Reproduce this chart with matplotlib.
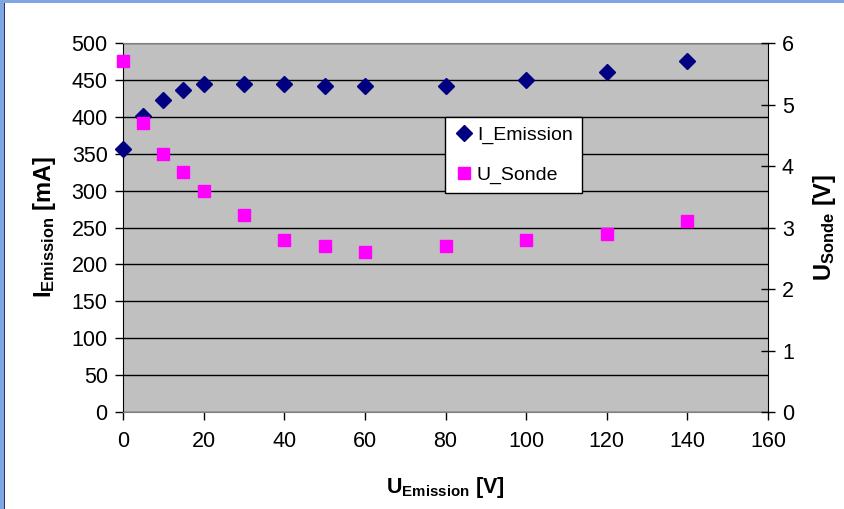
import matplotlib
matplotlib.use("Agg")
import matplotlib.pyplot as plt
from matplotlib.patches import Rectangle

plt.rcParams['font.family'] = ['Liberation Sans', 'DejaVu Sans']
plt.rcParams['mathtext.fontset'] = 'custom'
plt.rcParams['mathtext.rm'] = 'Liberation Sans'
plt.rcParams['mathtext.bf'] = 'Liberation Sans:bold'

# data
u_emission = [0, 5, 10, 15, 20, 30, 40, 50, 60, 80, 100, 120, 140]
i_emission = [357, 401, 423, 436, 445, 445, 445, 442, 442, 442, 450, 461, 475]
u_sonde = [5.7, 4.7, 4.2, 3.9, 3.6, 3.2, 2.8, 2.7, 2.6, 2.7, 2.8, 2.9, 3.1]

fig = plt.figure(figsize=(8.44, 5.09), dpi=100)
W, H = 844, 509
ax = fig.add_axes([123 / W, 1 - 412 / H, (768 - 123) / W, (412 - 43) / H])
ax.set_facecolor('#C0C0C0')

ax.set_xlim(0, 160)
ax.set_ylim(0, 500)
ax.set_xticks(range(0, 161, 20))
ax.set_yticks(range(0, 501, 50))
ax.yaxis.grid(True, color='black', linewidth=1)
ax.set_axisbelow(True)
ax.tick_params(axis='both', direction='out', length=6, width=1, labelsize=15.5, pad=5)
ax.tick_params(axis='x', pad=8)
for s in ['top', 'bottom']:
    ax.spines[s].set_color('#808080')
ax.spines['left'].set_color('black')
ax.spines['right'].set_visible(False)

ax2 = ax.twinx()
ax2.set_ylim(0, 6)
ax2.set_yticks(range(0, 7))
ax2.tick_params(axis='y', direction='inout', length=10, width=1, labelsize=15.5, pad=5)
ax2.spines['right'].set_color('black')
for s in ['top', 'bottom', 'left']:
    ax2.spines[s].set_visible(False)

h1, = ax.plot(u_emission, i_emission, 'D', color='#000080', markersize=8,
              linestyle='none', label='I_Emission', clip_on=False, zorder=3)
h2, = ax2.plot(u_emission, u_sonde, 's', color='#FF00FF', markersize=9,
               linestyle='none', label='U_Sonde', clip_on=False, zorder=3)

ax.set_xlabel(r'$\mathbf{U_{Emission}}$ [V]', fontsize=15.5, fontweight='bold', labelpad=16)
ax.set_ylabel(r'$\mathbf{I_{Emission}}$ [mA]', fontsize=17, fontweight='bold', labelpad=10)
ax2.set_ylabel(r'$\mathbf{U_{Sonde}}$ [V]', fontsize=17, fontweight='bold', labelpad=12)

leg = ax2.legend(handles=[h1, h2], loc='upper left', bbox_to_anchor=(0.499, 0.80),
                 fontsize=14, frameon=True, fancybox=False, framealpha=1,
                 edgecolor='black', labelspacing=1.1, handletextpad=0.15,
                 handlelength=1.0, borderpad=0.5, borderaxespad=0)
leg.get_frame().set_linewidth(1)

# window frame remnants
fig.patches.append(Rectangle((0, 1 - 3 / H), 1, 3 / H, transform=fig.transFigure,
                             facecolor='#7EA6E0', edgecolor='none'))
fig.patches.append(Rectangle((0, 0), 4 / W, 1, transform=fig.transFigure,
                             facecolor='#7EA6E0', edgecolor='none'))
fig.patches.append(Rectangle((4 / W, 0), 1 / W, 1 - 3 / H, transform=fig.transFigure,
                             facecolor='#303070', edgecolor='none'))

fig.savefig('out.png', dpi=100)
